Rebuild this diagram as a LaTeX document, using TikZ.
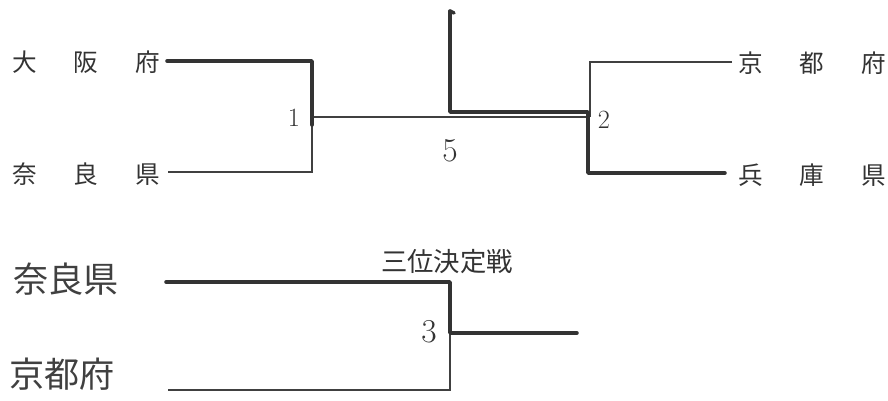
\documentclass[tikz,border=0pt]{standalone}
\usepackage{fontspec}
\newfontfamily\jp{Noto Sans CJK JP}
\newcommand{\gap}{\hspace{21pt}}
\tikzset{
	win/.style={line width=2pt,draw=black!80,line cap=round,line join=round},
	lose/.style={line width=0.6pt,draw=black!75},
	pref/.style={font=\jp\fontsize{14}{14}\selectfont,text=black!80,inner sep=0pt},
	hand/.style={font=\jp\fontsize{20}{20}\selectfont,text=black!75,inner sep=0pt},
	num/.style={font=\fontsize{15}{15}\selectfont,text=black!80,inner sep=0pt}
}
\begin{document}
\begin{tikzpicture}[x=0.02cm,y=-0.02cm]
		\useasboundingbox (0,0) rectangle (888,400);

		\node[pref] (a1)at(86,62){大\gap 阪\gap 府};
		\node[pref] (a2)at(86,174){奈\gap 良\gap 県};
		\node[pref] (a3)at(812,63){京\gap 都\gap 府};
		\node[pref] (a4)at(812,175){兵\gap 庫\gap 県};

		\node[num] (n1)at(294,118){1};
		\node[num] (n2)at(604,120){2};
		\node[num,font=\fontsize{19}{19}\selectfont] (n5)at(450,151){5};
		\node[num,font=\fontsize{19}{19}\selectfont] (n3)at(429,332){3};

		\node[pref,font=\jp\fontsize{15}{15}\selectfont] (d1)at(447,262){三位決定戦};
		\node[hand] (e1)at(66,279){奈良県};
		\node[hand] (e2)at(62,374){京都府};

		\coordinate (p1)at(167,61);
		\coordinate (q1)at(312,61);
		\coordinate (m1)at(312,125);
		\coordinate (p2)at(168,172);
		\coordinate (q2)at(312,172);
		\coordinate (r1)at(312,117);
		\coordinate (r2)at(590,117);
		\coordinate (p3)at(732,62);
		\coordinate (q3)at(590,62);
		\coordinate (m2)at(588,112);
		\coordinate (q4)at(588,173);
		\coordinate (p4)at(725,173);
		\coordinate (f1)at(450,112);
		\coordinate (f2)at(450,11);

		\draw [lose] (m1) -- (q2) -- (p2);
		\draw [lose] (r1) -- (r2);
		\draw [lose] (p3) -- (q3) -- (r2);
		\draw [win] (p1) -- (q1) -- (m1);
		\draw [win] (f2) -- (f1) -- (m2) -- (q4) -- (p4);
		\draw [win] (f2) -- ++(4,2);

		\coordinate (s1)at(166,282);
		\coordinate (t1)at(450,282);
		\coordinate (t2)at(450,333);
		\coordinate (u1)at(577,333);
		\coordinate (t3)at(450,390);
		\coordinate (s2)at(168,390);

		\draw [lose] (t2) -- (t3) -- (s2);
		\draw [win] (s1) -- (t1) -- (t2) -- (u1);
	\end{tikzpicture}
\end{document}
